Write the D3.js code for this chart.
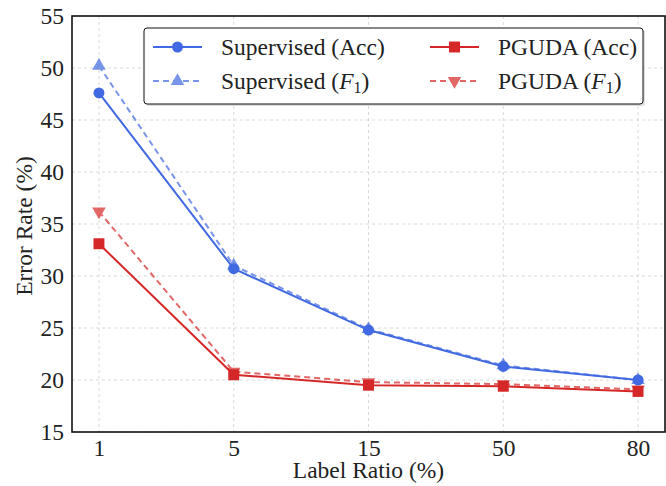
<!DOCTYPE html>
<html>
<head>
<meta charset="utf-8">
<script src="https://cdn.jsdelivr.net/npm/d3@7"></script>
<style>
  body { margin: 0; background: #fff; }
</style>
</head>
<body>
<div id="chart"></div>
<script>
// --- data ---
const ratios = ["1", "5", "15", "50", "80"];
const supAcc = [47.6, 30.7, 24.8, 21.3, 20.0];
const supF1 = [50.2, 31.0, 24.9, 21.4, 20.0];
const pgAcc = [33.1, 20.5, 19.5, 19.4, 18.9];
const pgF1 = [36.2, 20.8, 19.8, 19.6, 19.1];
const yTicks = [15, 20, 25, 30, 35, 40, 45, 50, 55];

const W = 666, H = 486;
const m = { top: 16, right: 1, bottom: 54, left: 72 };
const FS = "23.5px";
const FONT = '"Liberation Serif"';

const svg = d3.select("#chart").append("svg")
  .attr("width", W).attr("height", H);

const x = d3.scalePoint().domain(ratios).range([m.left, W - m.right]).padding(0.2);
const y = d3.scaleLinear().domain([15, 55]).range([H - m.bottom, m.top]);

// grid
const grid = svg.append("g").attr("stroke", "#d0d0d0").attr("stroke-width", 0.8)
  .attr("stroke-dasharray", "3,3");
ratios.forEach(r => grid.append("line")
  .attr("x1", x(r)).attr("x2", x(r)).attr("y1", m.top).attr("y2", H - m.bottom));
yTicks.forEach(t => grid.append("line")
  .attr("x1", m.left).attr("x2", W - m.right).attr("y1", y(t)).attr("y2", y(t)));

// axes (no tick marks)
const xAxis = svg.append("g").attr("transform", `translate(0,${H - m.bottom})`)
  .call(d3.axisBottom(x).tickSize(0).tickPadding(7));
const yAxis = svg.append("g").attr("transform", `translate(${m.left},0)`)
  .call(d3.axisLeft(y).tickValues(yTicks).tickSize(0).tickPadding(8));
[xAxis, yAxis].forEach(a => {
  a.select(".domain").remove();
  a.selectAll("line").remove();
  a.selectAll("text").style("font-family", FONT).style("font-size", FS).attr("fill", "#222");
});

// frame
svg.append("rect").attr("x", m.left).attr("y", m.top)
  .attr("width", W - m.right - m.left).attr("height", H - m.bottom - m.top)
  .attr("fill", "none").attr("stroke", "#111").attr("stroke-width", 1.6);

svg.append("text").attr("x", (m.left + W - m.right) / 2).attr("y", 478)
  .attr("text-anchor", "middle").style("font-family", FONT).style("font-size", FS)
  .attr("fill", "#222").text("Label Ratio (%)");
svg.append("text").attr("transform", `translate(32,226) rotate(-90)`)
  .attr("text-anchor", "middle").style("font-family", FONT).style("font-size", FS)
  .attr("fill", "#222").text("Error Rate (%)");

// series
const blue = "#4169e1", red = "#d62728";
const series = [
  { name: "Supervised (Acc)", vals: supAcc, color: blue, op: 1, dash: null, sym: d3.symbolCircle, size: 95, rot: 0 },
  { name: "Supervised (F1)", vals: supF1, color: blue, op: 0.7, dash: "6,4", sym: d3.symbolTriangle, size: 80, rot: 0 },
  { name: "PGUDA (Acc)", vals: pgAcc, color: red, op: 1, dash: null, sym: d3.symbolSquare, size: 120, rot: 0 },
  { name: "PGUDA (F1)", vals: pgF1, color: red, op: 0.7, dash: "6,4", sym: d3.symbolTriangle, size: 80, rot: 180 }
];
const line = d3.line().x((d, i) => x(ratios[i])).y(d => y(d));

const drawOrder = [series[1], series[0], series[3], series[2]];
drawOrder.forEach(s => {
  const g = svg.append("g").attr("opacity", s.op);
  g.append("path").datum(s.vals).attr("d", line)
    .attr("fill", "none").attr("stroke", s.color).attr("stroke-width", 2)
    .attr("stroke-dasharray", s.dash);
  g.selectAll("path.mk").data(s.vals).enter().append("path").attr("class", "mk")
    .attr("d", d3.symbol().type(s.sym).size(s.size))
    .attr("transform", (d, i) => `translate(${x(ratios[i])},${y(d)}) rotate(${s.rot})`)
    .attr("fill", s.color);
});

// legend
const lg = svg.append("g");
lg.append("rect").attr("x", 146).attr("y", 30).attr("width", 499).attr("height", 76).attr("rx", 3)
  .attr("fill", "#bbb").attr("opacity", 0.5);
lg.append("rect").attr("x", 144).attr("y", 28).attr("width", 499).attr("height", 76).attr("rx", 3)
  .attr("fill", "#fff").attr("stroke", "#111").attr("stroke-width", 1);
const pos = [[153, 47], [153, 81], [430, 47], [430, 81]];
series.forEach((s, k) => {
  const [lx, ly] = pos[k];
  const g = lg.append("g").attr("opacity", s.op);
  g.append("line").attr("x1", lx).attr("x2", lx + 49).attr("y1", ly).attr("y2", ly)
    .attr("stroke", s.color).attr("stroke-width", 2).attr("stroke-dasharray", s.dash);
  g.append("path").attr("d", d3.symbol().type(s.sym).size(s.size))
    .attr("transform", `translate(${lx + 24.5},${ly}) rotate(${s.rot})`).attr("fill", s.color);
  const t = lg.append("text").attr("x", lx + 68).attr("y", ly + 8)
    .style("font-family", FONT).style("font-size", FS).attr("fill", "#222");
  if (s.name.includes("F1")) {
    t.append("tspan").text(s.name.replace("(F1)", "("));
    t.append("tspan").style("font-style", "italic").text("F");
    t.append("tspan").attr("dy", 4).style("font-size", "16px").text("1");
    t.append("tspan").attr("dy", -4).text(")");
  } else {
    t.text(s.name);
  }
});
</script>
</body>
</html>
